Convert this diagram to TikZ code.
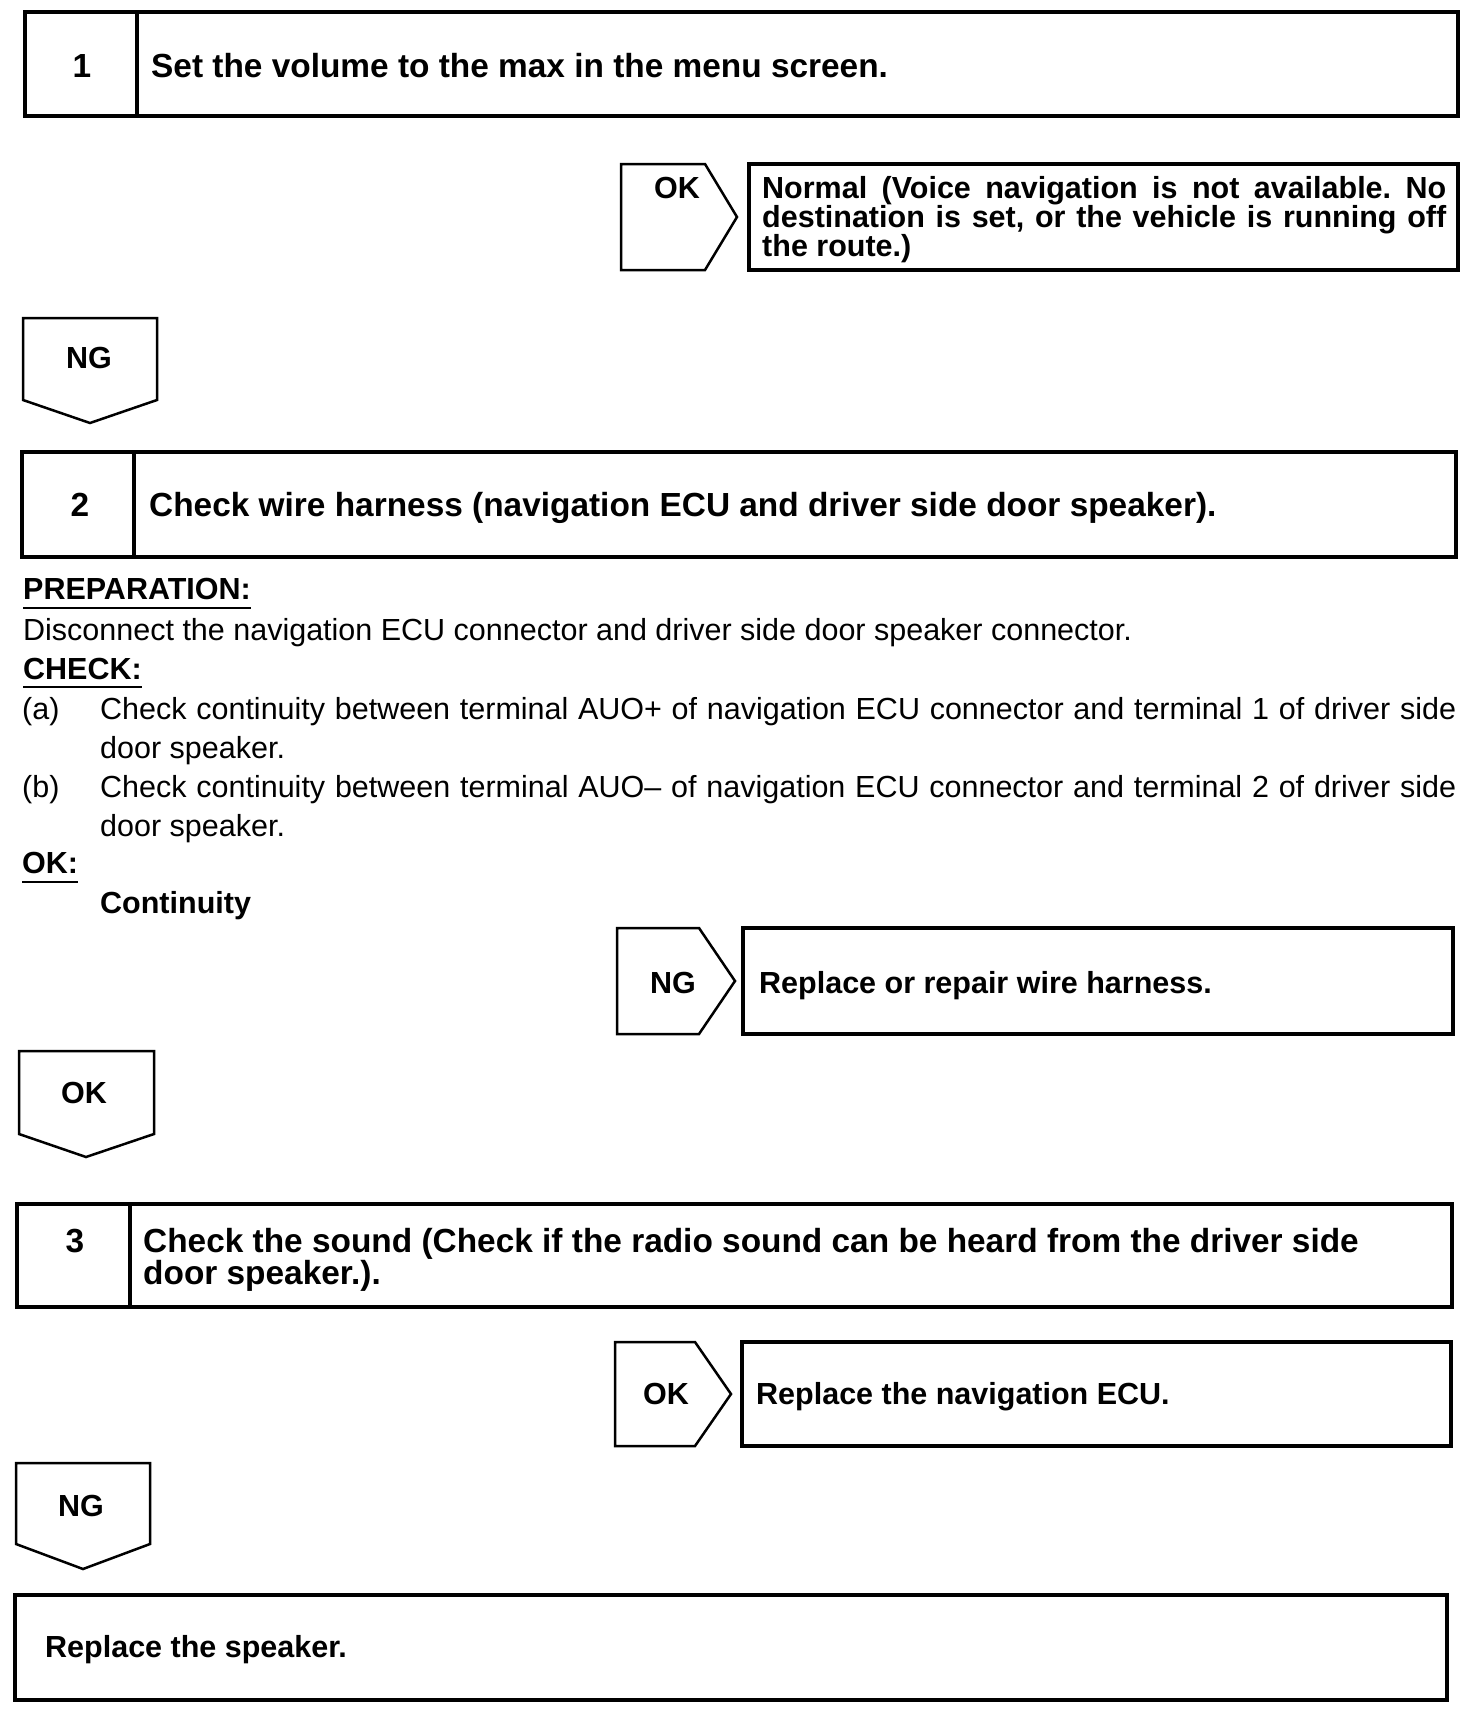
\documentclass[tikz,border=0pt]{standalone}
\usepackage{fontspec}
\setmainfont{Liberation Sans}
\frenchspacing
\newcommand\fsTitle{\fontsize{33.4}{33}\selectfont\bfseries}
\newcommand\fsBold{\fontsize{30.5}{29.5}\selectfont\bfseries}
\newcommand\fsReg{\fontsize{30.5}{39.5}\selectfont}
\tikzset{
  boxline/.style={draw, line width=3.1pt, line join=miter},
  arrline/.style={draw, line width=2.5pt, line join=miter},
  uline/.style={draw, line width=2.4pt},
  lbl/.style={inner sep=0pt, anchor=base west},
  clbl/.style={inner sep=0pt, anchor=base},
}
\begin{document}
\begin{tikzpicture}[x=1pt,y=-1pt]
\useasboundingbox[fill=white] (0,0) rectangle (1472,1714);

% ---- Step 1
\draw[boxline] (25,12) rectangle (1458,116);
\draw[boxline] (137,12) -- (137,116);
\node[clbl] (n1) at (82,77) {\fsTitle 1};
\node[lbl] (s1) at (151,77) {\fsTitle Set the volume to the max in the menu screen.};

% OK arrow 1 and result
\draw[arrline] (621,164) -- (705,164) -- (737,217) -- (705,270) -- (621,270) -- cycle;
\node[clbl] (ok1) at (677,198) {\fsBold OK};
\draw[boxline] (749,164) rectangle (1458,270);
\node[lbl] (r1a) at (762,198) {\fsBold\makebox[684pt][s]{Normal (Voice navigation is not available. No}};
\node[lbl] (r1b) at (762,227) {\fsBold\makebox[684pt][s]{destination is set, or the vehicle is running off}};
\node[lbl] (r1c) at (762,256) {\fsBold the route.)};

% NG down arrow 1
\draw[arrline] (23,318) -- (157,318) -- (157,400) -- (90,423) -- (23,400) -- cycle;
\node[clbl] (ng1) at (89,368) {\fsBold NG};

% ---- Step 2
\draw[boxline] (22,452) rectangle (1456,557);
\draw[boxline] (134,452) -- (134,557);
\node[clbl] (n2) at (80,516) {\fsTitle 2};
\node[lbl] (s2) at (149,516) {\fsTitle Check wire harness (navigation ECU and driver side door speaker).};

\node[lbl] (prep) at (23,599) {\fsBold PREPARATION:};
\draw[uline] ([yshift=-9pt]prep.base west) -- ([yshift=-9pt]prep.base east);
\node[lbl] (disc) at (23,640) {\fsReg Disconnect the navigation ECU connector and driver side door speaker connector.};
\node[lbl] (chk) at (23,679) {\fsBold CHECK:};
\draw[uline] ([yshift=-8pt]chk.base west) -- ([yshift=-8pt]chk.base east);
\node[lbl] (pa) at (22,719) {\fsReg (a)};
\node[lbl] (pa1) at (100,719) {\fsReg\makebox[1356pt][s]{Check continuity between terminal AUO+ of navigation ECU connector and terminal 1 of driver side}};
\node[lbl] (pa2) at (100,758) {\fsReg door speaker.};
\node[lbl] (pb) at (22,797) {\fsReg (b)};
\node[lbl] (pb1) at (100,797) {\fsReg\makebox[1356pt][s]{Check continuity between terminal AUO– of navigation ECU connector and terminal 2 of driver side}};
\node[lbl] (pb2) at (100,836) {\fsReg door speaker.};
\node[lbl] (okc) at (22,873) {\fsBold OK:};
\draw[uline] ([yshift=-9pt]okc.base west) -- ([yshift=-9pt]okc.base east);
\node[lbl] (cont) at (100,913) {\fsBold Continuity};

% NG right arrow 2 and result
\draw[arrline] (617,928) -- (699,928) -- (735,981) -- (699,1034) -- (617,1034) -- cycle;
\node[clbl] (ng2) at (673,993) {\fsBold NG};
\draw[boxline] (743,928) rectangle (1453,1034);
\node[lbl] (r2) at (759,993) {\fsBold Replace or repair wire harness.};

% OK down arrow 2
\draw[arrline] (19,1051) -- (154,1051) -- (154,1134) -- (86,1157) -- (19,1134) -- cycle;
\node[clbl] (ok2) at (84,1103) {\fsBold OK};

% ---- Step 3
\draw[boxline] (17,1204) rectangle (1452,1307);
\draw[boxline] (130,1204) -- (130,1307);
\node[clbl] (n3) at (75,1252) {\fsTitle 3};
\node[lbl] (s3a) at (143,1252) {\fsTitle Check the sound (Check if the radio sound can be heard from the driver side};
\node[lbl] (s3b) at (143,1284) {\fsTitle door speaker.).};

% OK right arrow 3 and result
\draw[arrline] (615,1342) -- (695,1342) -- (731,1394) -- (695,1446) -- (615,1446) -- cycle;
\node[clbl] (ok3) at (666,1404) {\fsBold OK};
\draw[boxline] (742,1342) rectangle (1451,1446);
\node[lbl] (r3) at (756,1404) {\fsBold Replace the navigation ECU.};

% NG down arrow 3
\draw[arrline] (16,1463) -- (150,1463) -- (150,1544) -- (83,1569) -- (16,1544) -- cycle;
\node[clbl] (ng3) at (81,1516) {\fsBold NG};

% final
\draw[boxline] (15,1595) rectangle (1447,1700);
\node[lbl] (r4) at (45,1657) {\fsBold Replace the speaker.};
\end{tikzpicture}
\end{document}
